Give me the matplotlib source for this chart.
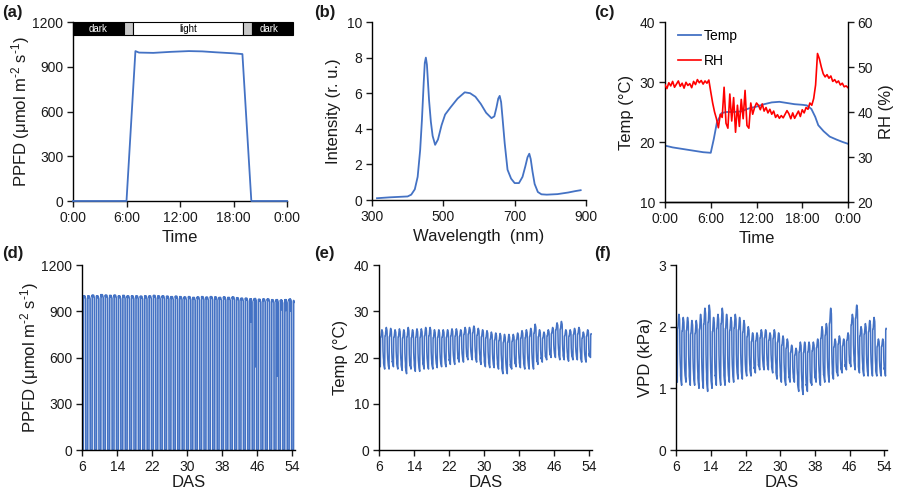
import numpy as np
import matplotlib
matplotlib.use('Agg')
import matplotlib.pyplot as plt
from matplotlib.patches import Rectangle

plt.rcParams['font.family'] = ['Liberation Sans', 'DejaVu Sans']
plt.rcParams['mathtext.fontset'] = 'custom'
plt.rcParams['mathtext.rm'] = 'Liberation Sans'
plt.rcParams['mathtext.default'] = 'regular'
plt.rcParams['axes.linewidth'] = 1.0

BLUE = '#4472C4'
RED = '#FF0000'
TXT = '#1a1a1a'

# ---- (a) PPFD over one day ----
ppfd_hour = [0, 6.0, 7.0, 7.4, 9, 11, 13, 14.5, 16, 18, 19.0, 20.0, 24]
ppfd_day = [0, 0, 1005, 995, 993, 1000, 1005, 1003, 997, 990, 985, 0, 0]

phase_start = [0, 5.7, 6.7, 19.05, 20.05]
phase_end = [5.7, 6.7, 19.05, 20.05, 24.7]
phase_color = ['black', '#c8c8c8', 'white', '#c8c8c8', 'black']
phase_text = ['dark', '', 'light', '', 'dark']

# ---- (b) spectrum ----
wl = [314, 350, 400, 410, 420, 428, 435, 440, 445, 448, 451, 454, 457, 460, 465,
      470, 477, 485, 495, 505, 520, 540, 560, 575, 590, 605, 620, 635, 643, 649,
      654, 658, 662, 666, 672, 680, 690, 700, 712, 722, 730, 736, 741, 745, 750,
      756, 765, 775, 790, 820, 850, 870, 885]
inten = [0.1, 0.15, 0.2, 0.3, 0.6, 1.3, 2.8, 4.5, 6.6, 7.7, 8.0, 7.6, 6.6, 5.6, 4.4,
         3.6, 3.1, 3.4, 4.2, 4.8, 5.2, 5.7, 6.05, 6.0, 5.8, 5.4, 4.9, 4.6, 4.7, 5.2,
         5.7, 5.85, 5.5, 4.6, 3.2, 1.7, 1.2, 0.95, 0.95, 1.3, 1.9, 2.4, 2.6, 2.3, 1.6,
         0.9, 0.45, 0.32, 0.3, 0.33, 0.42, 0.5, 0.55]

# ---- (c) temperature and RH over one day ----
temp_hour = [0, 1, 2, 3, 4, 5, 6, 6.4, 6.8, 7.4, 8, 9, 10, 11, 12, 13, 14, 15, 16, 17,
             18, 18.6, 19.2, 19.7, 20.1, 20.8, 21.6, 22.5, 23.3, 24]
temp_c = [19.4, 19.1, 18.9, 18.7, 18.5, 18.3, 18.2, 20.5, 23.2, 24.8, 25.0, 25.0, 25.1,
          25.6, 25.9, 26.3, 26.6, 26.7, 26.5, 26.3, 26.2, 26.1, 25.5, 24.2, 22.8, 21.8,
          20.9, 20.4, 20.0, 19.7]

rh_hour = np.linspace(0, 24, 97)
rh_vals = [46.0, 45.2, 46.5, 45.8, 46.8, 45.5, 46.2, 46.9, 45.7, 46.4, 45.3, 46.6,
           45.9, 46.3, 45.4, 46.8, 46.1, 47.2, 46.5, 47.0, 46.2, 46.9, 46.4, 47.1,
           44.5, 42.0, 40.0, 38.5,
           36.5, 39.5, 38.8, 45.5, 37.5, 36.4, 44.0, 38.0, 43.2, 35.5, 41.5, 36.8,
           42.8, 38.5, 44.8, 37.0, 36.4, 42.0, 39.5, 41.0,
           42.0, 41.5, 40.5, 41.8, 40.2, 41.0, 39.8, 40.6, 39.5, 40.2, 38.8, 39.4,
           38.6, 39.2, 38.7, 39.5, 40.3, 39.6, 38.5, 39.8, 38.6, 39.4, 40.2, 39.0,
           40.5, 39.8, 41.0, 40.6, 42.0, 41.5, 43.0,
           46.0, 53.0, 51.8, 50.0, 48.5, 47.8, 48.3, 47.5, 48.0, 46.8, 47.2, 46.5,
           46.9, 46.0, 46.4, 45.6, 45.8, 45.4]

# ---- (d)-(f) daily values, DAS 6..54 ----
ppfd_peak = [1000, 1000, 1005, 1000, 1008, 1005, 1003, 1005, 1000, 1003, 1000, 1000,
             1000, 998, 1000, 1000, 1003, 1000, 1000, 998, 995, 998, 995, 993, 995,
             990, 993, 995, 992, 995, 993, 990, 993, 990, 993, 988, 985, 985, 980,
             982, 978, 980, 980, 975, 975, 972, 975, 978, 970]
dip_das = [44, 45, 50, 51, 52, 53, 54]
dip_val = [830, 540, 480, 910, 905, 900, 650]

temp_max = [26.0, 26.5, 26.3, 26.0, 26.2, 26.0, 26.5, 26.0, 26.2, 26.2, 26.5, 26.5,
            26.0, 26.0, 26.0, 26.0, 26.2, 26.2, 26.0, 26.5, 26.5, 26.8, 26.3, 26.0,
            25.8, 25.5, 25.3, 25.2, 25.0, 25.0, 25.0, 25.3, 25.8, 26.0, 26.3, 27.2,
            26.0, 25.5, 26.0, 26.5, 27.5, 27.8, 26.0, 26.0, 26.3, 26.5, 25.5, 26.0, 26.3]
temp_min = [18.0, 17.5, 17.5, 18.0, 17.5, 17.2, 16.5, 17.5, 17.0, 17.0, 17.5, 17.5,
            17.5, 17.8, 18.0, 18.0, 18.5, 18.5, 19.0, 19.0, 19.5, 19.5, 19.0, 18.5,
            18.0, 17.8, 17.8, 17.5, 16.5, 16.5, 17.5, 18.0, 17.8, 17.5, 17.5, 17.5,
            18.5, 19.0, 19.5, 20.0, 20.0, 19.5, 19.5, 19.2, 19.5, 19.5, 19.0, 19.0, 20.0]

vpd_max = [2.2, 2.15, 2.15, 2.1, 2.1, 2.2, 2.3, 2.35, 2.15, 2.2, 2.3, 2.2, 2.15, 2.2,
           2.15, 2.1, 2.0, 1.9, 1.9, 1.95, 1.95, 1.9, 1.95, 1.9, 1.85, 1.8, 1.7, 1.65,
           1.75, 1.75, 1.75, 1.75, 1.8, 2.0, 2.05, 2.3, 1.8, 1.85, 1.8, 1.9, 2.2, 2.35,
           2.0, 2.05, 2.1, 2.15, 1.8, 1.8, 2.15]
vpd_min = [1.1, 1.05, 1.1, 1.05, 1.05, 1.0, 1.0, 0.95, 1.0, 1.05, 1.05, 1.05, 1.1, 1.1,
           1.15, 1.15, 1.2, 1.2, 1.25, 1.3, 1.3, 1.3, 1.25, 1.15, 1.1, 1.05, 1.1, 1.1,
           0.95, 0.9, 0.95, 1.05, 1.1, 1.05, 1.1, 1.1, 1.15, 1.2, 1.25, 1.3, 1.35, 1.3,
           1.25, 1.2, 1.2, 1.2, 1.2, 1.2, 1.2]

das_ticks = [6, 14, 22, 30, 38, 46, 54]
time_ticks = [0, 6, 12, 18, 24]
time_labels = ['0:00', '6:00', '12:00', '18:00', '0:00']
das_end = 54.42

ppfd_label = 'PPFD (\u03bcmol m$^{\u20102}$ s$^{\u20101}$)'

W, H = 900, 490
fig = plt.figure(figsize=(W / 100, H / 100), dpi=100)


def px_axes(left, top, right, bottom):
    return fig.add_axes([left / W, 1 - bottom / H, (right - left) / W, (bottom - top) / H])


def style(ax):
    ax.spines['top'].set_visible(False)
    ax.spines['right'].set_visible(False)
    ax.tick_params(direction='out', length=4, width=1, labelsize=10, colors=TXT, pad=3)
    ax.xaxis.label.set_size(12)
    ax.yaxis.label.set_size(12)
    ax.xaxis.label.set_color(TXT)
    ax.yaxis.label.set_color(TXT)


def daily_series(days, lows, highs, hours, shape):
    shape = np.asarray(shape, float)
    norm = (shape - shape.min()) / (shape.max() - shape.min())
    xs, ys = [], []
    for d, lo, hi in zip(days, lows, highs):
        xs.extend(d + np.asarray(hours) / 24.0)
        ys.extend(lo + norm * (hi - lo))
    xs, ys = np.array(xs), np.array(ys)
    keep = xs <= das_end
    return xs[keep], ys[keep]


# (a)
ax = px_axes(73, 22, 287, 201)
style(ax)
ax.plot(ppfd_hour, ppfd_day, color=BLUE, lw=1.3, zorder=3, clip_on=False)
for s, e, c, t in zip(phase_start, phase_end, phase_color, phase_text):
    ax.add_patch(Rectangle((s, 1111), e - s, 89, facecolor=c, edgecolor='black',
                           lw=0.8, clip_on=False, zorder=4))
    if t:
        ax.text((s + min(e, 24)) / 2, 1155, t, ha='center', va='center', fontsize=7,
                color='white' if c == 'black' else 'black', zorder=5)
ax.set_xlim(0, 24)
ax.set_ylim(0, 1200)
ax.set_xticks(time_ticks)
ax.set_xticklabels(time_labels)
ax.set_yticks([0, 300, 600, 900, 1200])
ax.set_xlabel('Time')
ax.set_ylabel(ppfd_label, labelpad=0)

# (b)
ax = px_axes(372, 22, 586, 200)
style(ax)
ax.plot(wl, inten, color=BLUE, lw=1.3)
ax.set_xlim(300, 900)
ax.set_ylim(0, 10)
ax.set_xticks([300, 500, 700, 900])
ax.set_yticks([0, 2, 4, 6, 8, 10])
ax.set_xlabel('Wavelength  (nm)')
ax.set_ylabel('Intensity (r. u.)')

# (c)
ax = px_axes(665, 22, 848, 202)
style(ax)
l1, = ax.plot(temp_hour, temp_c, color=BLUE, lw=1.3, label='Temp')
ax.set_xlim(0, 24)
ax.set_ylim(10, 40)
ax.set_yticks([10, 20, 30, 40])
ax.set_xticks(time_ticks)
ax.set_xticklabels(time_labels)
ax.set_xlabel('Time')
ax.set_ylabel('Temp (\u00b0C)')
ax2 = ax.twinx()
ax2.spines['top'].set_visible(False)
ax2.spines['left'].set_visible(False)
ax2.tick_params(direction='out', length=4, width=1, labelsize=10, colors=TXT, pad=3)
l2, = ax2.plot(rh_hour, rh_vals, color=RED, lw=1.2, label='RH')
ax2.set_ylim(20, 60)
ax2.set_yticks([20, 30, 40, 50, 60])
ax2.set_ylabel('RH (%)', fontsize=12, color=TXT)
ax2.legend([l1, l2], ['Temp', 'RH'], loc='upper left', bbox_to_anchor=(0.0, 1.03),
           frameon=False, fontsize=10, handlelength=1.7, handletextpad=0.2,
           labelspacing=0.8)

# (d)
days = np.arange(6, 6 + len(ppfd_peak))
xs, ys = [], []
for d, pk in zip(days, ppfd_peak):
    hrs = list(ppfd_hour)
    vals = [v * pk / 1005 for v in ppfd_day]
    if d in dip_das:
        i = 6
        hrs = hrs[:i] + [12.0, 12.2, 12.4] + hrs[i:]
        vals = vals[:i] + [pk, dip_val[dip_das.index(d)], pk] + vals[i:]
        order = np.argsort(hrs, kind='stable')
        hrs = [hrs[k] for k in order]
        vals = [vals[k] for k in order]
    xs.extend(d + np.array(hrs) / 24.0)
    ys.extend(vals)
xs, ys = np.array(xs), np.array(ys)
keep = xs <= das_end
ax = px_axes(82, 265, 295, 450)
style(ax)
ax.plot(xs[keep], ys[keep], color=BLUE, lw=1.2)
ax.set_xlim(5.95, 54.6)
ax.set_ylim(0, 1200)
ax.set_xticks(das_ticks)
ax.set_yticks([0, 300, 600, 900, 1200])
ax.set_xlabel('DAS', labelpad=1)
ax.set_ylabel(ppfd_label, labelpad=0)

# (e)
ax = px_axes(379, 265, 592, 450)
style(ax)
x, y = daily_series(days, temp_min, temp_max, temp_hour, temp_c)
ax.plot(x, y, color=BLUE, lw=1.1)
ax.set_xlim(5.95, 54.6)
ax.set_ylim(0, 40)
ax.set_xticks(das_ticks)
ax.set_yticks([0, 10, 20, 30, 40])
ax.set_xlabel('DAS', labelpad=1)
ax.set_ylabel('Temp (\u00b0C)')

# (f)
ax = px_axes(676, 265, 887, 450)
style(ax)
x, y = daily_series(days, vpd_min, vpd_max, temp_hour, temp_c)
ax.plot(x, y, color=BLUE, lw=1.1)
ax.set_xlim(5.95, 54.6)
ax.set_ylim(0, 3)
ax.set_xticks(das_ticks)
ax.set_yticks([0, 1, 2, 3])
ax.set_xlabel('DAS', labelpad=1)
ax.set_ylabel('VPD (kPa)')

# panel letters
for lbl, px, py in [('(a)', 2, 5), ('(b)', 314, 5), ('(c)', 594, 5),
                    ('(d)', 2, 246), ('(e)', 314, 246), ('(f)', 594, 246)]:
    fig.text(px / W, 1 - py / H, lbl, fontsize=12, fontweight='bold', va='top',
             ha='left', color=TXT)

fig.savefig('out.png', dpi=100)
